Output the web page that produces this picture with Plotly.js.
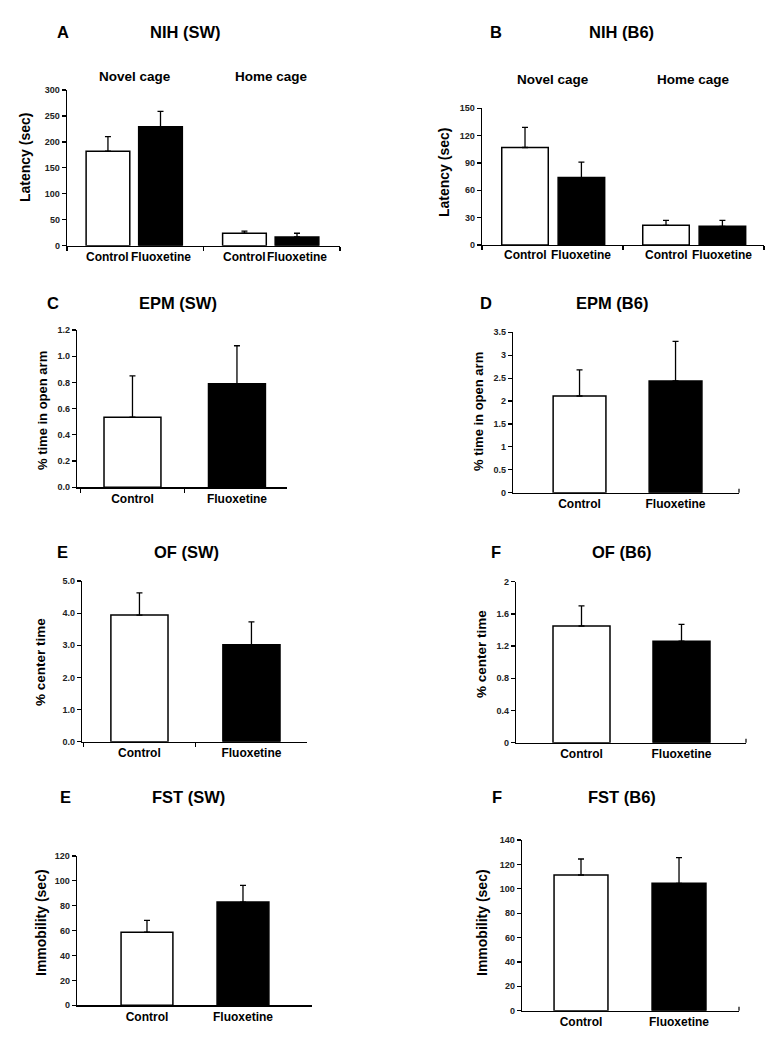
<!DOCTYPE html>
<html>
<head>
<meta charset="utf-8">
<script src="https://cdn.plot.ly/plotly-3.0.1.min.js"></script>
<style>html,body{margin:0;padding:0;background:#fff;}#chart{width:778px;height:1050px;}</style>
</head>
<body>
<div id="chart"></div>
<script>
// ---------- data ----------
const nihGroups = ["Novel cage", "Home cage"];
const conditions = ["Control", "Fluoxetine"];

const nihSWControl = [182, 24];
const nihSWControlErr = [28, 4];
const nihSWFluox = [229, 17];
const nihSWFluoxErr = [30, 7];

const nihB6Control = [107, 21.6];
const nihB6ControlErr = [22, 5.5];
const nihB6Fluox = [74, 20.5];
const nihB6FluoxErr = [17, 6.5];

const epmSW = [0.535, 0.79];
const epmSWErr = [0.315, 0.29];
const epmB6 = [2.11, 2.44];
const epmB6Err = [0.57, 0.86];

const ofSW = [3.94, 3.02];
const ofSWErr = [0.69, 0.71];
const ofB6 = [1.45, 1.26];
const ofB6Err = [0.25, 0.21];

const fstSW = [58.7, 83];
const fstSWErr = [9.6, 13.4];
const fstB6 = [111.3, 104.5];
const fstB6Err = [13.1, 21];

// ---------- helpers ----------
const W = 778, H = 1050;
const FONT = "Liberation Sans, Arial, sans-serif";
const px = x => x / W;
const py = y => 1 - y / H;
const barColors = ["white", "black"];

function errY(arr) {
  return {type: "data", symmetric: false, array: arr, arrayminus: arr.map(() => 0),
          color: "black", thickness: 1.3, width: 3};
}

const data = [];
const layout = {
  width: W, height: H, margin: {l: 0, r: 0, t: 0, b: 0},
  paper_bgcolor: "white", plot_bgcolor: "white",
  showlegend: false, barmode: "overlay",
  font: {family: FONT, color: "black"},
  annotations: [], shapes: []
};

function addAxes(n, xpx, ypx, yRange, dtick, tickformat, xOpts) {
  const s = n === 1 ? "" : String(n);
  layout["xaxis" + s] = Object.assign({
    domain: [px(xpx[0]), px(xpx[1])], anchor: "y" + s, type: "category",
    showline: true, linecolor: "black", linewidth: 1.3, showgrid: false, zeroline: false,
    tickfont: {family: FONT, size: 12, weight: "bold", color: "black"}, fixedrange: true
  }, xOpts);
  layout["yaxis" + s] = {
    domain: [py(ypx[1]), py(ypx[0])], anchor: "x" + s, range: yRange,
    dtick: dtick, tick0: 0, tickformat: tickformat || "",
    showline: true, linecolor: "black", linewidth: 1.3, showgrid: false, zeroline: false,
    ticks: "outside", ticklen: 4, tickwidth: 1.2, tickcolor: "black",
    tickfont: {family: FONT, size: 9, weight: "bold", color: "#222"}, fixedrange: true
  };
}

function ann(text, x, y, size, opts) {
  layout.annotations.push(Object.assign({
    text: "<b>" + text + "</b>", xref: "paper", yref: "paper", x: px(x), y: py(y),
    showarrow: false, xanchor: "center", yanchor: "middle",
    font: {family: FONT, size: size, color: "black"}
  }, opts || {}));
}

function endTick(n) {
  const s = n === 1 ? "" : String(n);
  layout.shapes.push({type: "line", xref: "x" + s + " domain", yref: "y" + s,
    x0: 1, x1: 1, ysizemode: "pixel", yanchor: 0, y0: -4, y1: 4,
    line: {color: "black", width: 1.2}});
}

// ---------- grouped NIH panels ----------
function nihPanel(n, ctrl, ctrlErr, flu, fluErr, offs, width, xpx, ypx, yRange, dtick, labelY, groupY) {
  const s = n === 1 ? "" : String(n);
  const vals = [ctrl, flu], errs = [ctrlErr, fluErr];
  conditions.forEach((c, ci) => {
    data.push({type: "bar", name: c, x: nihGroups, y: vals[ci], xaxis: "x" + s, yaxis: "y" + s,
      offset: offs[ci], width: width,
      marker: {color: barColors[ci], line: {color: "black", width: 1.5}},
      error_y: errY(errs[ci]), hoverinfo: "none"});
    nihGroups.forEach((g, gi) => {
      layout.annotations.push({text: "<b>" + c + "</b>", xref: "x" + s, yref: "paper",
        x: gi + offs[ci] + width / 2, y: py(labelY), showarrow: false,
        xanchor: "center", yanchor: "middle", font: {family: FONT, size: 12, color: "black"}});
    });
  });
  nihGroups.forEach((g, gi) => {
    layout.annotations.push({text: "<b>" + g + "</b>", xref: "x" + s, yref: "paper",
      x: gi, y: py(groupY), showarrow: false, xanchor: "center", yanchor: "middle",
      font: {family: FONT, size: 13.5, color: "black"}});
  });
  addAxes(n, xpx, ypx, yRange, dtick, "", {range: [-0.5, 1.5], tickson: "boundaries",
    ticks: "outside", ticklen: 4, tickwidth: 1.2, tickcolor: "black", showticklabels: false});
}

nihPanel(1, nihSWControl, nihSWControlErr, nihSWFluox, nihSWFluoxErr, [-0.36, 0.025], 0.32,
  [67, 340], [90, 245.7], [0, 300], 50, 257, 76);
nihPanel(2, nihB6Control, nihB6ControlErr, nihB6Fluox, nihB6FluoxErr, [-0.36, 0.04], 0.33,
  [482, 764], [108.3, 245], [0, 150], 30, 255, 80);

// ---------- two-bar panels ----------
function simplePanel(n, vals, errs, width, xpx, ypx, yRange, dtick, fmt, xRange, tickMode) {
  const s = n === 1 ? "" : String(n);
  data.push({type: "bar", x: conditions, y: vals, xaxis: "x" + s, yaxis: "y" + s,
    width: width, marker: {color: barColors, line: {color: "black", width: 1.5}},
    error_y: errY(errs), hoverinfo: "none"});
  const xo = {range: xRange, ticklabelstandoff: 0};
  if (tickMode === "boundaries") {
    Object.assign(xo, {tickson: "boundaries", ticks: "outside", ticklen: 4, tickwidth: 1.2, tickcolor: "black"});
  } else {
    Object.assign(xo, {ticks: ""});
  }
  addAxes(n, xpx, ypx, yRange, dtick, fmt, xo);
  if (tickMode === "end") endTick(n);
}

simplePanel(3, epmSW, epmSWErr, 0.545, [77, 287], [330, 487.3], [0, 1.2], 0.2, ".1f", [-0.531, 1.479], "boundaries");
simplePanel(4, epmB6, epmB6Err, 0.55, [513, 739], [332.3, 492.7], [0, 3.5], 0.5, "", [-0.693, 1.661], "end");
simplePanel(5, ofSW, ofSWErr, 0.51, [82, 307], [581, 741.7], [0, 5], 1, ".1f", [-0.513, 1.496], "boundaries");
simplePanel(6, ofB6, ofB6Err, 0.57, [516, 746], [581.7, 742.7], [0, 2], 0.4, "", [-0.655, 1.645], "end");
simplePanel(7, fstSW, fstSWErr, 0.54, [77, 312], [856, 1005.3], [0, 120], 20, "", [-0.729, 1.719], "none");
simplePanel(8, fstB6, fstB6Err, 0.55, [522, 739], [840, 1010.7], [0, 140], 20, "", [-0.602, 1.612], "end");

// ---------- panel titles ----------
const T = 16.5;
ann("A", 63, 32, T); ann("NIH (SW)", 185, 32, T);
ann("B", 496, 32, T); ann("NIH (B6)", 621, 32, T);
ann("C", 53, 303, T); ann("EPM (SW)", 178, 303, T);
ann("D", 486, 303, T); ann("EPM (B6)", 612, 303, T);
ann("E", 62, 552, T); ann("OF (SW)", 186, 552, T);
ann("F", 496, 552, T); ann("OF (B6)", 622, 552, T);
ann("E", 65, 797, T); ann("FST (SW)", 188, 797, T);
ann("F", 497, 797, T); ann("FST (B6)", 622, 797, T);

// ---------- axis titles ----------
const rot = {textangle: -90};
ann("Latency (sec)", 25, 158, 14, rot);
ann("Latency (sec)", 444, 173, 14, rot);
ann("% time in open arm", 42, 411, 13, rot);
ann("% time in open arm", 478, 412, 13, rot);
ann("% center time", 40, 662, 13.5, rot);
ann("% center time", 481, 654, 13.5, rot);
ann("Immobility (sec)", 41, 923, 14, rot);
ann("Immobility (sec)", 482, 923, 14, rot);

Plotly.newPlot("chart", data, layout, {staticPlot: true, displayModeBar: false});
</script>
</body>
</html>
